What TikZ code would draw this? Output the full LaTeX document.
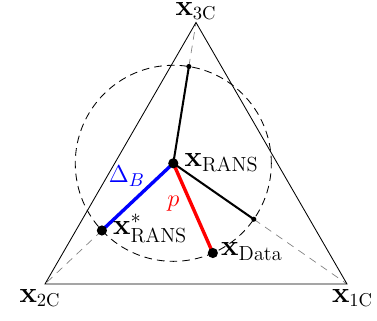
\documentclass[tikz,border=0pt]{standalone}
\usepackage{amsmath}
\usetikzlibrary{calc,positioning,backgrounds}
\newcommand{\ringrad}{2.03cm}
\tikzset{
  edge/.style={draw=black,line width=0.5pt},
  ring/.style={draw=black,dash pattern=on 4.5pt off 3pt,line width=0.5pt},
  guide/.style={draw=gray,dash pattern=on 4.5pt off 3.5pt,line width=0.4pt},
  arm/.style={draw=black,line width=1.2pt},
  blueleg/.style={draw=blue,line width=2pt},
  redleg/.style={draw=red,line width=2pt},
  bigdot/.style={circle,fill=black,inner sep=0pt,minimum size=6pt},
  smalldot/.style={circle,fill=black,inner sep=0pt,minimum size=3pt},
  ptlab/.style={anchor=base west,inner sep=0pt,font=\LARGE},
  vxlab/.style={anchor=base,inner sep=0pt,font=\fontsize{16}{19}\selectfont},
  leglab/.style={anchor=base west,inner sep=0pt,font=\fontsize{15.5}{18}\selectfont}
}
\begin{document}
\begin{tikzpicture}[x=0.0207cm,y=0.0207cm]
  \useasboundingbox (0,0) rectangle (377,321);
  \coordinate (v1) at (347,37);
  \coordinate (v2) at (45,37);
  \coordinate (v3) at (196,298.5);
  \coordinate (c) at (173.3,157.7);

  \draw[edge] (v1) -- (v2) -- (v3) -- cycle;
  \draw[ring] (c) circle[radius=\ringrad];

  \node[bigdot] (rans) at (c) {};
  \node[smalldot] (p3) at ($(c)!\ringrad!(v3)$) {};
  \node[smalldot] (p1) at ($(c)!\ringrad!(v1)$) {};
  \node[bigdot] (star) at ($(c)!\ringrad!(v2)$) {};
  \node[bigdot] (data) at ($(c)+(-66.2:\ringrad)$) {};

  \begin{scope}[on background layer]
    \foreach \p/\v in {p3/v3,p1/v1,star/v2}
      \draw[guide] (\p.center) -- (\v);
    \draw[arm] (rans.center) -- (p3.center);
    \draw[arm] (rans.center) -- (p1.center);
    \draw[blueleg] (rans.center) -- (star.center);
    \draw[redleg] (rans.center) -- (data.center);
  \end{scope}

  \node[leglab,text=blue] (dlab) at (108.5,138.3) {$\Delta_B$};
  \node[leglab,text=red] (plab) at (167,114.3) {$p$};

  \node[ptlab] (lrans) at ($(rans)+(11,-3.4)$) {$\mathbf{x}_{\mathrm{RANS}}$};
  \node[ptlab] (lstar) at ($(star)+(11,-4)$) {$\mathbf{x}^{*}_{\mathrm{RANS}}$};
  \node[ptlab] (ldata) at ($(data)+(8,-3)$) {$\mathbf{x}_{\mathrm{Data}}$};
  \node[vxlab] (l3) at ($(v3)+(0,7)$) {$\mathbf{x}_{3\mathrm{C}}$};
  \node[vxlab] (l2) at ($(v2)+(-5,-18.3)$) {$\mathbf{x}_{2\mathrm{C}}$};
  \node[vxlab] (l1) at ($(v1)+(5.5,-18.3)$) {$\mathbf{x}_{1\mathrm{C}}$};
\end{tikzpicture}
\end{document}
